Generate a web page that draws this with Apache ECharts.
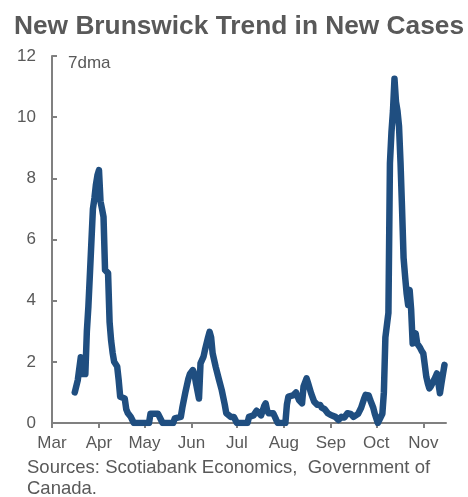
<!DOCTYPE html>
<html>
<head>
<meta charset="utf-8">
<script src="https://cdn.jsdelivr.net/npm/echarts@6/dist/echarts.min.js"></script>
<style>html,body{margin:0;padding:0;background:#fff}#c{width:468px;height:497px}</style>
</head>
<body>
<div id="c"></div>
<script>
const title = 'New Brunswick Trend in New Cases';
const unitNote = '7dma';
const sourceLines = ['Sources: Scotiabank Economics,  Government of', 'Canada.'];
const monthNames = ['Jan','Feb','Mar','Apr','May','Jun','Jul','Aug','Sep','Oct','Nov','Dec'];
const axisStart = '2020-03-01';
const axisEnd = '2020-11-16';
const yTicks = [0, 2, 4, 6, 8, 10, 12];

const dates = [
 '2020-03-16','2020-03-18','2020-03-20','2020-03-21','2020-03-23','2020-03-24','2020-03-25','2020-03-26','2020-03-27','2020-03-28','2020-03-29','2020-03-30','2020-03-31',
 '2020-04-01','2020-04-02','2020-04-03','2020-04-04','2020-04-05','2020-04-07','2020-04-08','2020-04-09','2020-04-10','2020-04-11','2020-04-13','2020-04-14','2020-04-15','2020-04-18','2020-04-19','2020-04-20','2020-04-22','2020-04-23','2020-04-24',
 '2020-05-04','2020-05-05','2020-05-10','2020-05-12','2020-05-13','2020-05-20','2020-05-21','2020-05-25','2020-05-26','2020-05-28','2020-05-30','2020-05-31',
 '2020-06-02','2020-06-03','2020-06-04','2020-06-06','2020-06-07','2020-06-09','2020-06-10','2020-06-12','2020-06-13','2020-06-14','2020-06-15','2020-06-17','2020-06-19','2020-06-21','2020-06-23','2020-06-24','2020-06-27','2020-06-29','2020-06-30',
 '2020-07-01','2020-07-08','2020-07-09','2020-07-12','2020-07-14','2020-07-15','2020-07-17','2020-07-19','2020-07-20','2020-07-21','2020-07-22','2020-07-25','2020-07-27','2020-07-28',
 '2020-08-02','2020-08-03','2020-08-04','2020-08-07','2020-08-09','2020-08-10','2020-08-11','2020-08-13','2020-08-14','2020-08-16','2020-08-17','2020-08-19','2020-08-21','2020-08-22','2020-08-23','2020-08-25','2020-08-26','2020-08-28','2020-08-30',
 '2020-09-01','2020-09-04','2020-09-06','2020-09-08','2020-09-10','2020-09-12','2020-09-14','2020-09-16','2020-09-19','2020-09-21','2020-09-23','2020-09-24','2020-09-26','2020-09-27','2020-09-29','2020-09-30',
 '2020-10-02','2020-10-03','2020-10-05','2020-10-06','2020-10-07','2020-10-08','2020-10-09','2020-10-10','2020-10-11','2020-10-12','2020-10-13','2020-10-14','2020-10-15','2020-10-16','2020-10-17','2020-10-18','2020-10-19','2020-10-20','2020-10-21','2020-10-22','2020-10-23','2020-10-24','2020-10-25','2020-10-26','2020-10-27','2020-10-28','2020-10-29','2020-10-30','2020-10-31',
 '2020-11-01','2020-11-02','2020-11-03','2020-11-04','2020-11-05','2020-11-06','2020-11-07','2020-11-08','2020-11-09','2020-11-10','2020-11-11','2020-11-12','2020-11-13','2020-11-14','2020-11-15'
];
const values = [
 1.0,1.4,2.15,1.6,1.6,3.0,3.8,4.85,4.9,7.0,7.35,7.8,8.1,
 8.27,7.25,7.0,6.74,5.0,4.9,3.3,2.7,2.3,2.0,1.85,1.4,0.86,0.8,0.45,0.33,0.2,0.1,0,
 0,0.3,0.3,0.1,0,0,0.15,0.2,0.5,1.0,1.45,1.6,
 1.73,1.6,1.3,0.8,1.95,2.17,2.4,2.8,2.98,2.8,2.28,1.84,1.45,1.08,0.6,0.32,0.2,0.2,0.1,
 0,0,0.2,0.25,0.4,0.35,0.25,0.55,0.64,0.4,0.32,0.32,0.1,0,
 0,0.6,0.86,0.9,1.0,1.02,0.75,0.64,1.2,1.46,1.3,0.97,0.7,0.7,0.6,0.59,0.5,0.45,0.32,
 0.26,0.2,0.1,0.2,0.18,0.32,0.3,0.2,0.3,0.5,0.8,0.92,0.9,0.75,0.5,0.3,
 0,0.05,0.3,1.0,2.8,3.2,3.6,8.5,9.5,10.2,11.26,10.5,10.2,9.7,8.5,7.0,5.4,4.8,4.24,3.86,4.35,3.7,2.6,2.7,2.93,2.6,2.55,2.45,2.35,
 2.28,1.9,1.51,1.3,1.13,1.2,1.3,1.4,1.5,1.62,1.3,0.97,1.3,1.6,1.9
];

function pad(n){return n<10?'0'+n:''+n;}
const categories = [];
(function(){
  const d = new Date(axisStart + 'T00:00:00Z');
  const end = new Date(axisEnd + 'T00:00:00Z');
  while (d <= end) {
    categories.push(d.getUTCFullYear()+'-'+pad(d.getUTCMonth()+1)+'-'+pad(d.getUTCDate()));
    d.setUTCDate(d.getUTCDate()+1);
  }
})();
const seriesData = dates.map((d, i) => [d, values[i]]);
const isMonthStart = (idx, val) => typeof val === 'string' && val.slice(8) === '01';

const textColor = '#595959';
const axisColor = '#808080';
const font = 'Liberation Sans, Arial, sans-serif';

const chart = echarts.init(document.getElementById('c'), null, {renderer: 'canvas'});
chart.setOption({
  animation: false,
  backgroundColor: '#ffffff',
  title: {
    text: title, left: 9, top: 9,
    textStyle: {fontFamily: font, fontSize: 26.3, fontWeight: 'bold', color: textColor}
  },
  grid: {left: 52, right: 22, top: 56, bottom: 74, containLabel: false},
  xAxis: {
    type: 'category', data: categories, boundaryGap: false,
    axisLine: {lineStyle: {color: axisColor, width: 2}},
    axisTick: {show: true, interval: isMonthStart, length: 5, lineStyle: {color: axisColor, width: 2}},
    axisLabel: {
      interval: isMonthStart, margin: 12, color: textColor, fontFamily: font, fontSize: 17,
      formatter: v => monthNames[parseInt(v.slice(5, 7), 10) - 1]
    },
    splitLine: {show: false}
  },
  yAxis: {
    type: 'value', min: yTicks[0], max: yTicks[yTicks.length-1], interval: 2,
    axisLine: {show: true, lineStyle: {color: axisColor, width: 2}},
    axisTick: {show: true, inside: true, length: 5, lineStyle: {color: axisColor, width: 2}},
    axisLabel: {margin: 16, color: textColor, fontFamily: font, fontSize: 17},
    splitLine: {show: false}
  },
  graphic: [
    {type: 'text', left: 68, top: 55, style: {text: unitNote, fill: textColor, font: '17px ' + font}},
    {type: 'text', left: 27, top: 457, style: {text: sourceLines.join('\n'), fill: textColor, font: '18.5px ' + font, lineHeight: 21}}
  ],
  series: [{
    type: 'line', data: seriesData, showSymbol: false, smooth: false,
    lineStyle: {color: '#1F4E80', width: 6.5, cap: 'round', join: 'round'}
  }]
});
</script>
</body>
</html>
